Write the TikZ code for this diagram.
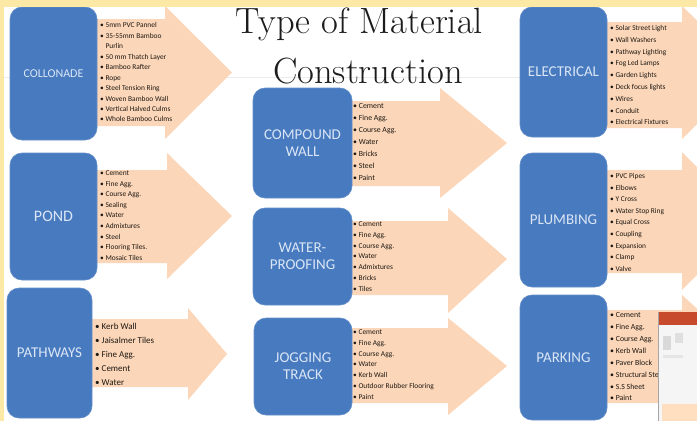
\documentclass[tikz,border=0pt]{standalone}
\usepackage{fontspec}
\usepackage{tikz}
\newfontfamily\calfont{Carlito}
\definecolor{boxblue}{RGB}{72,122,192}
\definecolor{boxtext}{RGB}{218,230,245}
\definecolor{peach}{RGB}{251,214,184}
\definecolor{frameyellow}{RGB}{252,233,166}
\definecolor{listtext}{RGB}{30,25,20}
\definecolor{titlegray}{RGB}{28,28,28}
\definecolor{pptred}{RGB}{200,74,44}
\tikzstyle{catbox}=[rectangle, rounded corners=12pt, fill=boxblue, draw=boxblue!85!white, line width=0.6pt, text=boxtext, align=center, inner sep=0pt, font=\calfont\fontsize{15}{17}\selectfont]
\tikzstyle{matitem}=[anchor=base west, inner sep=0pt, text=listtext, font=\calfont\fontsize{7.4}{8}\selectfont]
\tikzstyle{miditem}=[matitem, font=\calfont\fontsize{7.8}{9}\selectfont]
\tikzstyle{bigitem}=[matitem, font=\calfont\fontsize{9}{10}\selectfont]
\tikzstyle{titletext}=[anchor=base, inner sep=0pt, text=titlegray, font=\fontsize{36.5}{40}\selectfont]

\begin{document}
\begin{tikzpicture}[x=1pt, y=-1pt]

    \useasboundingbox (0,0) rectangle (697,421);
    \clip (0,0) rectangle (697,421);
    \fill[white] (0,0) rectangle (697,421);
    \draw[gray!15, line width=0.8pt] (0,77) -- (697,77);

    % arrows: shaft from \xa to \xb, head from \xb to \xc
    \foreach \xa/\xb/\xc/\st/\sb/\ht/\hb/\ty in {97/165/232/19/126/6/139/72.5, 97/167/232/170/263/153/279/216,
        92/188/227/319/387/308/400/354, 352/440/507/101/186/88/198/143, 352/448/507/221/295/208/313/259,
        352/448/507/328/403/318/415/366, 607/682/750/22/128/6/139/72, 607/682/750/170/273/152/290/221,
        607/682/750/310/403/295/418/357}
        \fill[peach] (\xa,\st) -- (\xb,\st) -- (\xb,\ht) -- (\xc,\ty) -- (\xb,\hb) -- (\xb,\sb) -- (\xa,\sb) -- cycle;

    \foreach \x/\y/\w/\h/\name/\txt in {53.5/73.5/87/133/collonade/{\fontsize{12}{14}\selectfont COLLONADE},
        53.5/216.5/87/127/pond/{\fontsize{16}{18}\selectfont POND}, 49.5/353/85/130/pathways/PATHWAYS,
        302.5/143/99/110/compound/{COMPOUND\\WALL}, 302.5/256.5/99/97/waterproof/{WATER-\\PROOFING},
        303/366.5/98/97/jogging/{JOGGING\\TRACK}, 563.5/72/87/130/electrical/ELECTRICAL,
        563.5/220/87/134/plumbing/PLUMBING, 563.5/357.5/87/125/parking/PARKING}
        \node[catbox, minimum width=\w pt, minimum height=\h pt] (\name) at (\x,\y) {\txt};

    % material lists
    \foreach \y/\txt/\name in {25/5mm PVC Pannel/c1, 35.5/35-55mm Bamboo/c2, 56.5/50 mm Thatch Layer/c3,
        67/Bamboo Rafter/c4, 77.5/Rope/c5, 88/Steel Tension Ring/c6, 98.5/Woven Bamboo Wall/c7,
        109/Vertical Halved Culms/c8, 119/Whole Bamboo Culms/c9}
        \node[matitem] (col-\name) at (100,\y+2.5) {\textbullet\ \txt};
    \node[matitem] (col-purlin) at (col-c2.base west |- 0,48.5) {\phantom{\textbullet\ }Purlin};

    \foreach \txt [count=\i] in {Cement, Fine Agg., Course Agg., Sealing, Water, Admixtures, Steel,
        Flooring Tiles., Mosaic Tiles}
        \node[matitem] (pond-\i) at (100,{173+10.6*(\i-1)+2.5}) {\textbullet\ \txt};

    \foreach \txt [count=\i] in {Kerb Wall, Jaisalmer Tiles, Fine Agg., Cement, Water}
        \node[bigitem] (path-\i) at (95,{326+14.2*(\i-1)+3}) {\textbullet\ \txt};

    \foreach \txt [count=\i] in {Cement, Fine Agg., Course Agg., Water, Bricks, Steel, Paint}
        \node[miditem] (wall-\i) at (353,{106+12*(\i-1)+2.6}) {\textbullet\ \txt};

    \foreach \txt [count=\i] in {Cement, Fine Agg., Course Agg., Water, Admixtures, Bricks, Tiles}
        \node[matitem] (proof-\i) at (353,{224+10.8*(\i-1)+2.5}) {\textbullet\ \txt};

    \foreach \txt [count=\i] in {Cement, Fine Agg., Course Agg., Water, Kerb Wall, Outdoor Rubber Flooring, Paint}
        \node[matitem] (jog-\i) at (353,{332+10.8*(\i-1)+2.5}) {\textbullet\ \txt};

    \foreach \txt [count=\i] in {Solar Street Light, Wall Washers, Pathway Lighting, Fog Led Lamps,
        Garden Lights, Deck focus lights, Wires, Conduit, Electrical Fixtures}
        \node[matitem] (elec-\i) at (610,{28+11.8*(\i-1)+2.5}) {\textbullet\ \txt};

    \foreach \txt [count=\i] in {PVC Pipes, Elbows, Y Cross, Water Stop Ring, Equal Cross, Coupling,
        Expansion, Clamp, Valve}
        \node[matitem] (plumb-\i) at (610,{176+11.6*(\i-1)+2.5}) {\textbullet\ \txt};

    \foreach \txt [count=\i] in {Cement, Fine Agg., Course Agg., Kerb Wall, Paver Block, Structural Steel,
        S.S Sheet, Paint}
        \node[miditem] (park-\i) at (610,{315+11.9*(\i-1)+2.6}) {\textbullet\ \txt};

    \node[titletext] (title1) at (359,33) {Type of Material};
    \node[titletext] (title2) at (368,83) {Construction};

    % window in the corner
    \fill[gray!8] (658,312) rectangle (697,421);
    \fill[pptred] (658,312) rectangle (697,325);
    \fill[gray!30] (663,336) rectangle (671,350);
    \fill[gray!25] (675,333) rectangle (683,343);
    \fill[gray!20] (663,355) rectangle (683,358);
    \fill[orange!25] (662,404) rectangle (697,421);
    \draw[gray!70, line width=1pt] (658,312) -- (658,421);

    \fill[frameyellow] (0,0) rectangle (697,7);
    \fill[frameyellow] (0,0) rectangle (4,421);

\end{tikzpicture}
\end{document}
